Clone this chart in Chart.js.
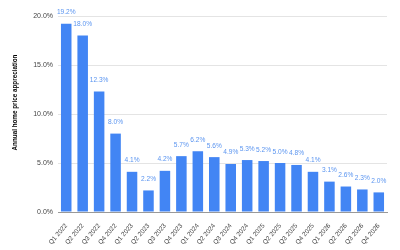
<!DOCTYPE html>
<html>
<head>
<meta charset="utf-8">
<script src="https://cdn.jsdelivr.net/npm/chart.js@4"></script>
<style>
  html, body { margin: 0; padding: 0; background: #fff; }
  #wrap { width: 400px; height: 250px; position: relative; }
</style>
</head>
<body>
<div id="wrap"><canvas id="chart" width="400" height="250"></canvas></div>
<script>
// Trimestres y apreciación anual (%)
const quarters = [
    'Q1 2022', 'Q2 2022', 'Q3 2022', 'Q4 2022',
    'Q1 2023', 'Q2 2023', 'Q3 2023', 'Q4 2023',
    'Q1 2024', 'Q2 2024', 'Q3 2024', 'Q4 2024',
    'Q1 2025', 'Q2 2025', 'Q3 2025', 'Q4 2025',
    'Q1 2026', 'Q2 2026', 'Q3 2026', 'Q4 2026'
];
const appreciation = [
    19.2, 18.0, 12.3, 8.0,
    4.1, 2.2, 4.2, 5.7,
    6.2, 5.6, 4.9, 5.3,
    5.2, 5.0, 4.8, 4.1,
    3.1, 2.6, 2.3, 2.0
];
const yTicks = [0, 5, 10, 15, 20];
const yTitle = 'Annual home price appreciation';

const FONT = '"Liberation Sans", Arial, sans-serif';

// Etiquetas encima de cada barra + título del eje Y
const barLabels = {
    id: 'barLabels',
    afterDatasetsDraw(chart) {
        const ctx = chart.ctx;
        const meta = chart.getDatasetMeta(0);
        ctx.save();
        ctx.font = '6.6px ' + FONT;
        ctx.fillStyle = '#5b95f0';
        ctx.textAlign = 'center';
        ctx.textBaseline = 'alphabetic';
        meta.data.forEach((bar, i) => {
            ctx.fillText(appreciation[i].toFixed(1) + '%', bar.x, bar.y - 9.5);
        });
        // título vertical, algo por encima del centro como en el original
        ctx.translate(15.5, 102.5);
        ctx.rotate(-Math.PI / 2);
        ctx.font = 'bold 6.3px ' + FONT;
        ctx.fillStyle = '#000';
        ctx.textBaseline = 'middle';
        ctx.fillText(yTitle, 0, 0);
        ctx.restore();
    }
};

new Chart(document.getElementById('chart').getContext('2d'), {
    type: 'bar',
    data: {
        labels: quarters,
        datasets: [{
            data: appreciation,
            backgroundColor: '#4285f4',
            borderWidth: 0,
            barPercentage: 0.64,
            categoryPercentage: 1.0
        }]
    },
    options: {
        responsive: false,
        animation: false,
        devicePixelRatio: 1,
        layout: { padding: { top: 16, right: 13, left: 0, bottom: 0 } },
        plugins: {
            legend: { display: false },
            tooltip: { enabled: false }
        },
        scales: {
            x: {
                grid: { display: false },
                border: { color: '#999', width: 1 },
                afterFit(scale) { scale.height = 38; },
                ticks: {
                    color: '#444',
                    font: { family: FONT, size: 6.5 },
                    minRotation: 50,
                    maxRotation: 50,
                    autoSkip: false,
                    padding: 2
                }
            },
            y: {
                min: 0,
                max: 20,
                afterFit(scale) { scale.width = 58; },
                afterBuildTicks(scale) {
                    scale.ticks = yTicks.map(v => ({ value: v }));
                },
                grid: { color: '#e4e4e4', drawTicks: false },
                border: { display: false },
                ticks: {
                    color: '#444',
                    font: { family: FONT, size: 7 },
                    padding: 5,
                    callback: v => v.toFixed(1) + '%'
                }
            }
        }
    },
    plugins: [barLabels]
});
</script>
</body>
</html>
